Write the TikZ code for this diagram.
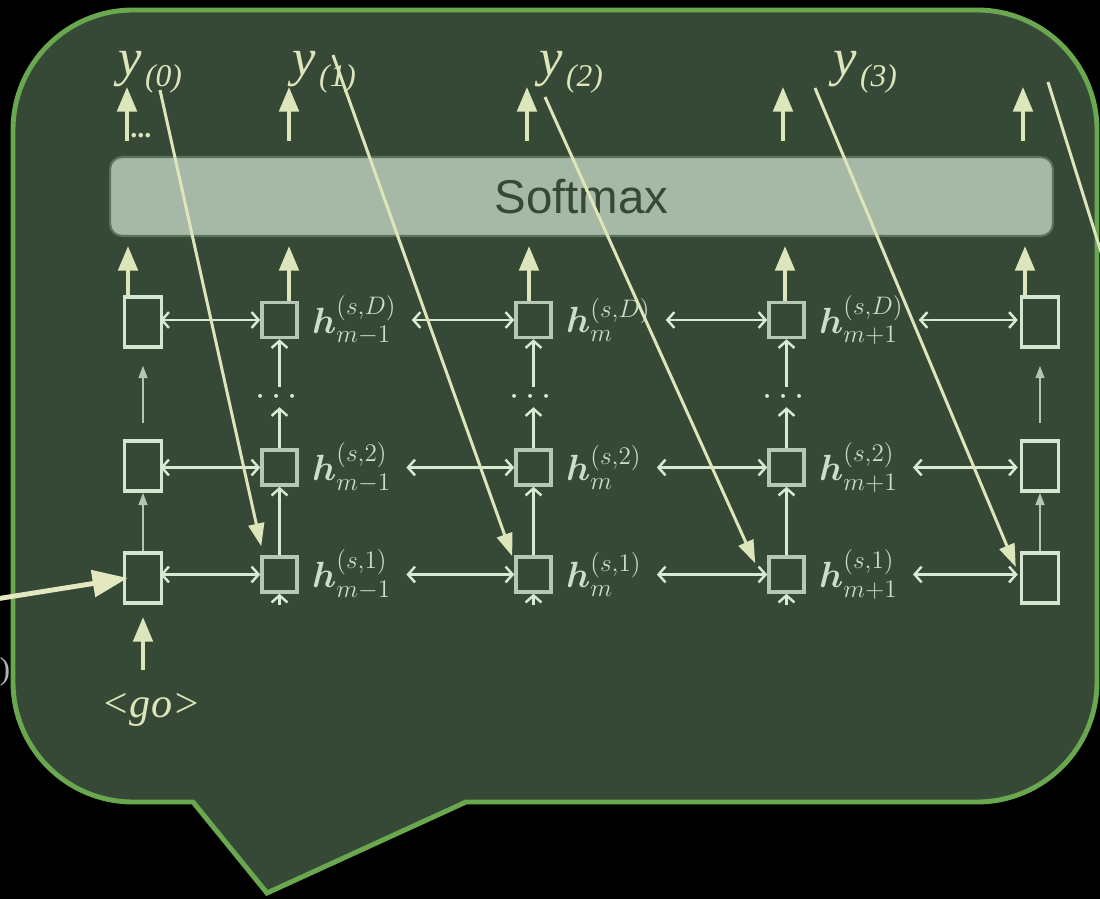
\documentclass[tikz,border=0pt]{standalone}
\usepackage{amsmath,amssymb}
\usepackage[no-math]{fontspec}
\setmainfont{Liberation Serif}
\newfontfamily\barfont{Liberation Sans}
\usetikzlibrary{arrows.meta,positioning,calc}

\definecolor{bubblefill}{RGB}{54,73,54}
\definecolor{bubbleedge}{RGB}{106,168,79}
\definecolor{ygreen}{RGB}{221,230,186}
\definecolor{boxlight}{RGB}{210,230,208}
\definecolor{boxgray}{RGB}{182,200,180}
\definecolor{linkcol}{RGB}{214,234,212}
\definecolor{thincol}{RGB}{178,198,178}
\definecolor{labelcol}{RGB}{206,220,202}
\definecolor{barfill}{RGB}{166,185,166}
\definecolor{baredge}{RGB}{92,114,92}
\definecolor{feedcol}{RGB}{228,232,192}

\newcommand{\ylab}[1]{{\fontsize{30}{30}\selectfont y}\kern2pt\raisebox{-6.5pt}{\fontsize{18}{18}\selectfont(#1)}}

\begin{document}
\begin{tikzpicture}[x=0.02cm,y=-0.02cm,
  bubble/.style={draw=bubbleedge,fill=bubblefill,line width=2.8pt},
  smbar/.style={rectangle,draw=baredge,fill=barfill,line width=1.2pt,rounded corners=0.24cm,
                minimum width=18.86cm,minimum height=1.58cm,text=bubblefill,
                font=\barfont\fontsize{27}{27}\selectfont},
  tallbox/.style={rectangle,draw=boxlight,line width=2pt,minimum width=0.74cm,
                  minimum height=1cm,inner sep=0pt},
  cellbox/.style={rectangle,draw=boxgray,line width=2pt,minimum size=0.7cm,inner sep=0pt},
  hlab/.style={text=labelcol,font=\fontsize{20}{24}\selectfont,inner sep=0pt},
  ylabel/.style={text=ygreen,font=\itshape,anchor=base,inner sep=0pt},
  yarrow/.style={ygreen,line width=2.3pt,-{Triangle[length=14pt,width=11pt]}},
  diag/.style={ygreen,line width=1.7pt,-{Triangle[length=13pt,width=9pt]}},
  link/.style={linkcol,line width=1.4pt,
               {Straight Barb[length=4pt,width=9pt]}-{Straight Barb[length=4pt,width=9pt]}},
  uplink/.style={linkcol,line width=1.4pt,-{Straight Barb[length=4pt,width=9pt]}},
  thin/.style={thincol,line width=1pt,-{Triangle[length=7pt,width=5pt]}}]

\fill[black] (0,0) rectangle (1100,899);
\useasboundingbox (0,0) rectangle (1100,899);
\node[text=gray!60,font=\fontsize{18}{18}\selectfont,inner sep=0pt] (frag) at (5,672) {)};

%% ---------- callout ----------
\draw[bubble] (193,802) -- (133,802) arc[start angle=90,end angle=180,radius=120]
  -- (13,130) arc[start angle=180,end angle=270,radius=120]
  -- (977,10) arc[start angle=270,end angle=360,radius=120]
  -- (1097,682) arc[start angle=0,end angle=90,radius=120]
  -- (466,802) -- (267,893) -- cycle;

\node[smbar] (SM) at (581.5,196.5) {Softmax};

%% ---------- hidden layers ----------
% outer columns (row 3 = layer D)
\foreach \col/\x in {A/143,E/1040}{
  \node[tallbox] (\col1) at (\x,578) {};
  \node[tallbox] (\col2) at (\x,466) {};
  \node[tallbox] (\col3) at (\x,322) {};
  \draw[thin] (\col1) -- (\col2);
  \draw[thin,shorten <=0.32cm,shorten >=0.34cm] (\col2) -- (\col3);
}
% inner columns
\foreach \col/\x in {B/279.5,C/533.5,D/786.5}{
  \node[cellbox] (\col1) at (\x,574.5) {};
  \node[cellbox] (\col2) at (\x,467.5) {};
  \node[cellbox] (\col3) at (\x,320) {};
  \node[text=linkcol,font=\fontsize{20}{20}\selectfont,inner sep=1pt] (dots\col) at (\x,397) {$\cdots$};
  \draw[uplink] (\col1) -- (\col2);
  \draw[uplink] (\col2) -- (dots\col);
  \draw[uplink] (dots\col) -- (\col3);
  \draw[uplink] ([yshift=-0.22cm]\col1.south) -- (\col1.south);
}
% labels
\foreach \col/\sub in {B/m-1,C/m,D/m+1}
  \foreach \r/\lay in {1/1,2/2,3/D}
    \node[hlab,right=0.26cm of \col\r] (h\col\r) {$\boldsymbol{h}^{(s,\lay)}_{\sub}$};
% links between time steps
\foreach \r in {1,2,3}{
  \draw[link] ([xshift=-0.06cm]B\r.west -| A\r.east) -- (B\r.west);
  \draw[link] ([xshift=0.3cm]hB\r.east |- C\r) -- (C\r.west);
  \draw[link] ([xshift=0.3cm]hC\r.east |- D\r) -- (D\r.west);
  \draw[link] ([xshift=0.3cm]hD\r.east |- D\r) -- ([xshift=-0.04cm]D\r -| E\r.west);
}

%% ---------- outputs ----------
\foreach \n/\x in {A3/128,B3/289,C3/529,D3/785,E3/1025}
  \draw[yarrow,shorten >=0.18cm] (\n.north -| \x,0) -- (SM.south -| \x,0);
\foreach \x in {127,289,527,783,1023}
  \draw[yarrow] ($(SM.north -| \x,0)+(0,-15)$) -- ++(0,-54);
\node[text=ygreen,font=\fontsize{16}{16}\selectfont\bfseries,inner sep=0pt,anchor=base west]
  (trail) at (130,137) {...};

\foreach \i/\x in {0/150,1/324,2/571,3/865}
  \node[ylabel] (y\i) at (\x,75) {\ylab{\i}};

%% ---------- input ----------
\node[text=ygreen,font=\fontsize{24}{24}\selectfont\itshape] (go) at (151,710) {<go>};
\draw[yarrow,shorten <=10pt,shorten >=7pt] (A1.south |- go.north) -- (A1.south);

%% ---------- feedback arrows ----------
\coordinate (d0) at (160,90);
\coordinate (d1) at (333,55);
\coordinate (d2) at (545,97);
\coordinate (d3) at (815,88);
\coordinate (d4) at (1048,82);
\coordinate (d5) at (1106,268);
\draw[diag] (d0) -- ([shift={(1,-9)}]B1.north west);
\draw[diag] (d1) -- ([shift={(-2,1)}]C1.north west);
\draw[diag] (d2) -- ([shift={(-12,8)}]D1.north west);
\draw[diag] (d3) -- ([shift={(-4,-11)}]E1.west);
\draw[ygreen,line width=1.7pt] (d4) -- (d5);

\coordinate (feed) at (-4,599);
\draw[feedcol,line width=2.8pt,-{Triangle[length=20pt,width=15pt]}] (feed) -- ([xshift=0.1cm]A1.west);

\end{tikzpicture}
\end{document}
